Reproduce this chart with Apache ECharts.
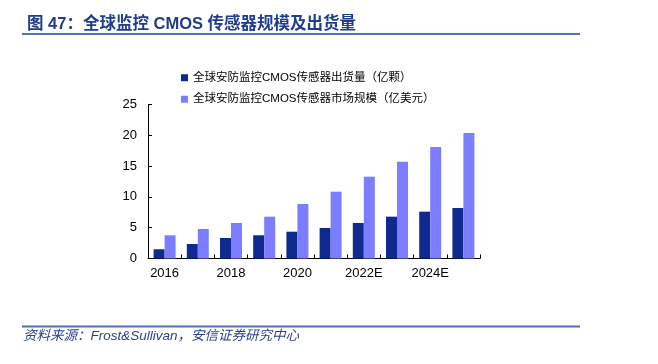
<!DOCTYPE html>
<html>
<head>
<meta charset="utf-8">
<style>
html,body{margin:0;padding:0;background:#fff;}
#c{width:658px;height:364px;}
</style>
<script src="https://cdn.jsdelivr.net/npm/echarts@6/dist/echarts.min.js"></script>
</head>
<body>
<div id="c"></div>
<script>
var categories = ['2016','2017','2018','2019','2020','2021','2022E','2023E','2024E','2025E'];
var shipments = [1.5, 2.35, 3.33, 3.77, 4.35, 4.95, 5.76, 6.79, 7.6, 8.2];
var marketSize = [3.77, 4.79, 5.76, 6.79, 8.85, 10.85, 13.28, 15.7, 18.1, 20.37];
var seriesNames = ['全球安防监控CMOS传感器出货量（亿颗）', '全球安防监控CMOS传感器市场规模（亿美元）'];
var titleText = '图 47：全球监控 CMOS 传感器规模及出货量';
var sourceText = '资料来源：Frost&Sullivan，安信证券研究中心';

var FONT = "'Liberation Sans','Noto Sans CJK SC',sans-serif";
var chart = echarts.init(document.getElementById('c'), null, {renderer: 'canvas'});
chart.setOption({
  animation: false,
  backgroundColor: '#ffffff',
  title: {
    text: titleText,
    left: 22,
    top: 11,
    textStyle: {fontFamily: FONT, fontSize: 16.5, fontWeight: 'bold', color: '#1f3d8c'}
  },
  graphic: [
    {type: 'line', shape: {x1: 22, y1: 34, x2: 580, y2: 34}, style: {stroke: '#5370b3', lineWidth: 2}},
    {type: 'line', shape: {x1: 22, y1: 326.5, x2: 580, y2: 326.5}, style: {stroke: '#5370b3', lineWidth: 2}},
    {type: 'text', left: 23, top: 329.5, style: {text: sourceText, fontFamily: FONT, fontSize: 13.5, fontStyle: 'italic', fill: '#2b4190'}}
  ],
  legend: {
    orient: 'vertical',
    left: 176,
    top: 67,
    itemWidth: 7,
    itemHeight: 7,
    itemGap: 10,
    icon: 'rect',
    textStyle: {fontFamily: FONT, fontSize: 11.5, color: '#000'},
    data: seriesNames
  },
  grid: {left: 148, right: 178, top: 104.5, bottom: 105.5},
  xAxis: {
    type: 'category',
    data: categories,
    boundaryGap: true,
    axisLine: {lineStyle: {color: '#000', width: 1}},
    axisTick: {show: true, inside: true, length: 4, alignWithLabel: false, interval: 0, lineStyle: {color: '#000'}},
    axisLabel: {interval: 1, fontFamily: FONT, fontSize: 13, color: '#000', margin: 8}
  },
  yAxis: {
    type: 'value',
    min: 0,
    max: 25,
    interval: 5,
    splitLine: {show: false},
    axisLine: {show: true, lineStyle: {color: '#000', width: 1}},
    axisTick: {show: true, inside: true, length: 4, lineStyle: {color: '#000'}},
    axisLabel: {fontFamily: FONT, fontSize: 13, color: '#000', margin: 11}
  },
  series: [
    {name: seriesNames[0], type: 'bar', data: shipments, barWidth: 11, barGap: '0%',
     itemStyle: {color: '#0f2a8e'}},
    {name: seriesNames[1], type: 'bar', data: marketSize, barWidth: 11, barGap: '0%',
     itemStyle: {color: '#7d7dff'}}
  ]
});
</script>
</body>
</html>
